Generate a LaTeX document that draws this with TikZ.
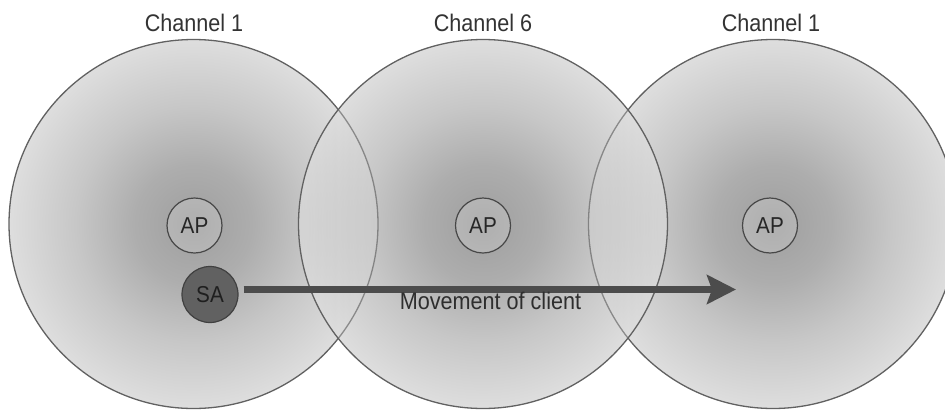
\documentclass[tikz,border=0pt]{standalone}
\usepackage{fontspec}
\newfontfamily\lblfont[FakeStretch=0.9]{Liberation Sans}
\usetikzlibrary{arrows.meta}

% soft radial glow for a radio cell: darker at the access point, lighter at the rim
% (the 25bp radius is stretched onto the cell's rim)
\pgfdeclareradialshading{cellglow}{\pgfpointorigin}{%
  color(0bp)=(black!38); color(8bp)=(black!32); color(16bp)=(black!22);
  color(25bp)=(black!13); color(50bp)=(black!13)}

\tikzset{
  cellrim/.style={draw=black!62, line width=1.3pt},
  cellfill/.style={shading=cellglow},
  apnode/.style={circle, draw=black!72, line width=1.2pt, fill=white, fill opacity=0.18,
    text opacity=1, text=black!85, minimum size=55pt, inner sep=0pt,
    font=\lblfont\fontsize{23}{26}\selectfont},
  sanode/.style={circle, draw=black!75, line width=1.2pt, fill=black!62,
    text=black!88, minimum size=56pt, inner sep=0pt,
    font=\lblfont\fontsize{23}{26}\selectfont},
  chlabel/.style={anchor=base, text=black!80, inner sep=0pt,
    font=\lblfont\fontsize{24}{28}\selectfont},
  movelabel/.style={anchor=base, text=black!82, inner sep=0pt,
    font=\lblfont\fontsize{24}{28}\selectfont},
  move/.style={draw=black!70, line width=6.5pt,
    -{Stealth[length=29pt, width=29pt, inset=5pt]}},
}

\begin{document}
\begin{tikzpicture}[x=1pt, y=-1pt]
  \useasboundingbox (0,0) rectangle (945,410);
  \clip (0,0) rectangle (945,410);

  \def\cellr{184.5}
  \coordinate (cL) at (193.5,224);
  \coordinate (cM) at (483,224);
  \coordinate (cR) at (773,224);

  % three overlapping cells, the middle one on top
  \shade[cellfill] (cL) circle[radius=\cellr];
  \shade[cellfill] (cR) circle[radius=\cellr];
  \shade[cellfill] (cM) circle[radius=\cellr];

  % blend the overlap zones
  \begin{scope}
    \clip (cM) circle[radius=\cellr];
    \shade[cellfill, opacity=0.5] (cL) circle[radius=\cellr];
    \shade[cellfill, opacity=0.5] (cR) circle[radius=\cellr];
  \end{scope}

  % outer cell boundaries
  \draw[cellrim] (cL) circle[radius=\cellr];
  \draw[cellrim] (cR) circle[radius=\cellr];

  % translucent middle cell veils the rims beneath it
  \begin{scope}
    \clip (cM) circle[radius=\cellr];
    \shade[cellfill, opacity=0.35] (cM) circle[radius=\cellr];
  \end{scope}
  \draw[cellrim] (cM) circle[radius=\cellr];

  % channel labels
  \node[chlabel] (chL) at (194,31) {Channel 1};
  \node[chlabel] (chM) at (483,31) {Channel 6};
  \node[chlabel] (chR) at (771,31) {Channel 1};

  % access points
  \node[apnode] (apL) at (194.5,225.5) {AP};
  \node[apnode] (apM) at (483,225.5) {AP};
  \node[apnode] (apR) at (770,225.5) {AP};

  % roaming client
  \node[sanode] (sa) at (210,294.5) {SA};

  \coordinate (moveEnd) at (736,289.5);
  \draw[move] ([xshift=5pt]sa.east |- moveEnd) -- (moveEnd);
  \node[movelabel] (mv) at (490.5,309) {Movement of client};
\end{tikzpicture}
\end{document}
